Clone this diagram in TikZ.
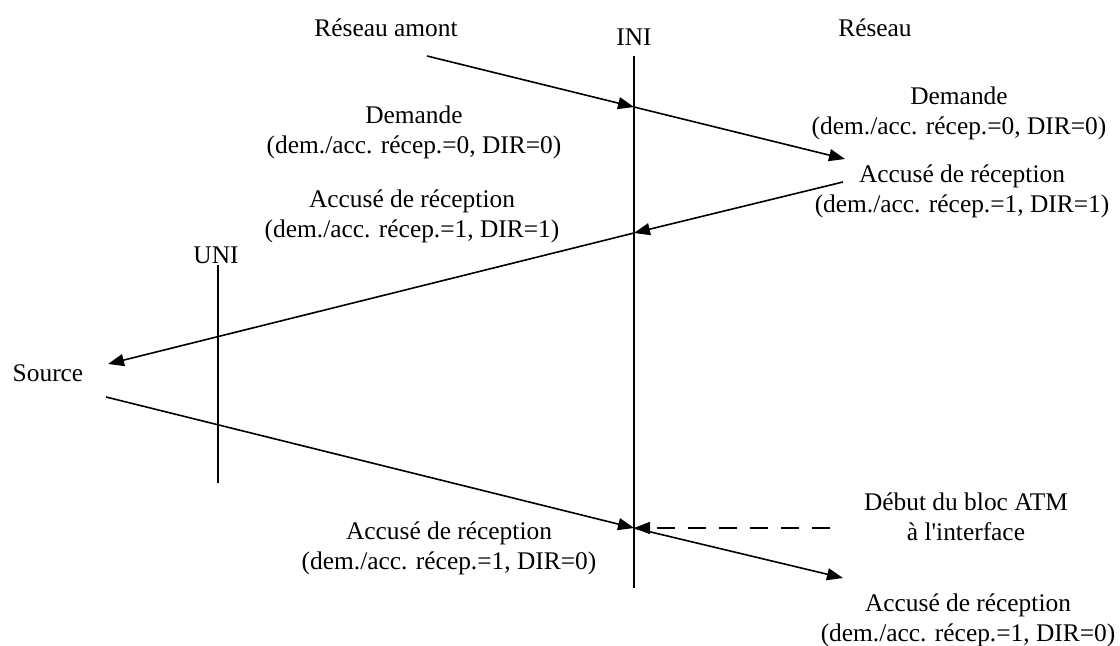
\documentclass[tikz,border=0pt]{standalone}
\usepackage{fontspec}
\setmainfont{Liberation Serif}
\usetikzlibrary{arrows.meta}
\tikzset{>={Triangle[length=8pt,width=6pt]}}

\begin{document}
\begin{tikzpicture}[x=0.5pt,y=-0.5pt,
    txt/.style={align=center,inner sep=0pt,font=\fontsize{12.7}{15}\selectfont},
    msg/.style={->,line width=0.8pt},
    iface/.style={line width=0.8pt}]
  \useasboundingbox (0,0) rectangle (1120,646);
  % \draw[help lines] (0,0) grid[step=50] (1120,646);
  \coordinate (initop) at (634,56);
  \coordinate (inibot) at (634,588);
  \coordinate (unitop) at (218,265);
  \coordinate (unibot) at (218,483);
  \coordinate (amont) at (427,56);
  \coordinate (ini1) at (634,107);
  \coordinate (res1) at (845,159);
  \coordinate (res2) at (843,182);
  \coordinate (ini2) at (634,233);
  \coordinate (src2) at (108,364);
  \coordinate (src3) at (106,397);
  \coordinate (ini3) at (634,528);
  \coordinate (res3) at (843,578);
  \coordinate (bloc) at (830,528);

  % interfaces
  \node[txt] (ini) at (634,37) {INI};
  \node[txt] (uni) at (216,255) {UNI};
  \draw[iface] (initop) -- (inibot);
  \draw[line width=0.6pt] (unitop) -- (unibot);

  % extremites
  \node[txt] (amontlbl) at (386,28) {Réseau amont};
  \node[txt] (reseau) at (875,28) {Réseau};
  \node[txt] (source) at (48,373) {Source};

  % messages
  \node[txt] (dem1) at (414,132) {Demande\\(dem./acc. récep.=0, DIR=0)};
  \node[txt] (dem2) at (959,113) {Demande\\(dem./acc. récep.=0, DIR=0)};
  \node[txt] (acc1) at (962,191) {Accusé de réception\\(dem./acc. récep.=1, DIR=1)};
  \node[txt] (acc2) at (412,216) {Accusé de réception\\(dem./acc. récep.=1, DIR=1)};
  \node[txt] (acc3) at (449,548) {Accusé de réception\\(dem./acc. récep.=1, DIR=0)};
  \node[txt] (acc4) at (968,620) {Accusé de réception\\(dem./acc. récep.=1, DIR=0)};
  \node[txt] (debut) at (966,517) {Début du bloc ATM\\à l\textquotesingle interface};

  \draw[msg] (amont) -- (ini1);
  \draw[msg] (ini1) -- (res1);
  \draw[msg] (res2) -- (ini2);
  \draw[msg] (ini2) -- (src2);
  \draw[msg] (src3) -- (ini3);
  \draw[msg] (ini3) -- (res3);
  \draw[msg,dash pattern=on 9pt off 6.5pt] (bloc) -- (ini3);
\end{tikzpicture}
\end{document}
